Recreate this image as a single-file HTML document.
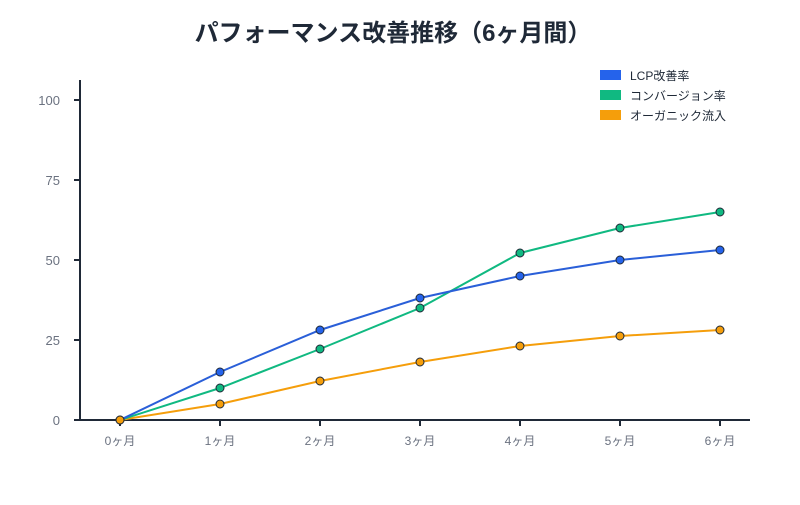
<!DOCTYPE html>
<html><head><meta charset="utf-8"><style>
body{margin:0;background:#fff;}
svg text{font-family:"Liberation Sans","Noto Sans CJK JP",sans-serif;}
</style></head><body>
<svg width="800" height="500" viewBox="0 0 800 500" xmlns="http://www.w3.org/2000/svg">
<rect width="800" height="500" fill="#fff"/>
<text x="393" y="41" text-anchor="middle" font-size="24" font-weight="bold" fill="#1f2937">パフォーマンス改善推移（6ヶ月間）</text>
<g stroke="#1f2937" stroke-width="2">
<line x1="80" y1="80" x2="80" y2="421"/>
<line x1="74" y1="420" x2="750" y2="420"/>
<line x1="74" y1="100" x2="80" y2="100"/><line x1="74" y1="180" x2="80" y2="180"/><line x1="74" y1="260" x2="80" y2="260"/><line x1="74" y1="340" x2="80" y2="340"/>
<line x1="120" y1="420" x2="120" y2="426"/><line x1="220" y1="420" x2="220" y2="426"/><line x1="320" y1="420" x2="320" y2="426"/><line x1="420" y1="420" x2="420" y2="426"/><line x1="520" y1="420" x2="520" y2="426"/><line x1="620" y1="420" x2="620" y2="426"/><line x1="720" y1="420" x2="720" y2="426"/>
</g>
<g font-size="13" fill="#6b7280" text-anchor="end">
<text x="60" y="105">100</text><text x="60" y="185">75</text><text x="60" y="265">50</text><text x="60" y="345">25</text><text x="60" y="425">0</text>
</g>
<g font-size="12" fill="#6b7280" text-anchor="middle">
<text x="120" y="445">0ヶ月</text><text x="220" y="445">1ヶ月</text><text x="320" y="445">2ヶ月</text><text x="420" y="445">3ヶ月</text><text x="520" y="445">4ヶ月</text><text x="620" y="445">5ヶ月</text><text x="720" y="445">6ヶ月</text>
</g>
<g fill="none" stroke-width="2">
<polyline stroke="#f59e0b" points="120,420 220,404 320,381 420,362 520,346 620,336 720,330"/>
<polyline stroke="#10b981" points="120,420 220,388 320,349 420,308 520,253 620,228 720,212"/>
<polyline stroke="#2a5fd8" points="120,420 220,372 320,330 420,298 520,276 620,260 720,250"/>
</g>
<g stroke="#1f2937" stroke-width="1">
<g fill="#f59e0b"><circle cx="120" cy="420" r="4"/><circle cx="220" cy="404" r="4"/><circle cx="320" cy="381" r="4"/><circle cx="420" cy="362" r="4"/><circle cx="520" cy="346" r="4"/><circle cx="620" cy="336" r="4"/><circle cx="720" cy="330" r="4"/></g>
<g fill="#10b981"><circle cx="220" cy="388" r="4"/><circle cx="320" cy="349" r="4"/><circle cx="420" cy="308" r="4"/><circle cx="520" cy="253" r="4"/><circle cx="620" cy="228" r="4"/><circle cx="720" cy="212" r="4"/></g>
<g fill="#2563eb"><circle cx="220" cy="372" r="4"/><circle cx="320" cy="330" r="4"/><circle cx="420" cy="298" r="4"/><circle cx="520" cy="276" r="4"/><circle cx="620" cy="260" r="4"/><circle cx="720" cy="250" r="4"/></g>
<circle cx="120" cy="420" r="4" fill="#f59e0b"/>
</g>
<rect x="600" y="70" width="21" height="10" fill="#2563eb"/>
<rect x="600" y="90" width="21" height="10" fill="#10b981"/>
<rect x="600" y="110" width="21" height="10" fill="#f59e0b"/>
<g font-size="12" fill="#1f2937">
<text x="630" y="80">LCP改善率</text><text x="630" y="100">コンバージョン率</text><text x="630" y="120">オーガニック流入</text>
</g>
</svg>
</body></html>
